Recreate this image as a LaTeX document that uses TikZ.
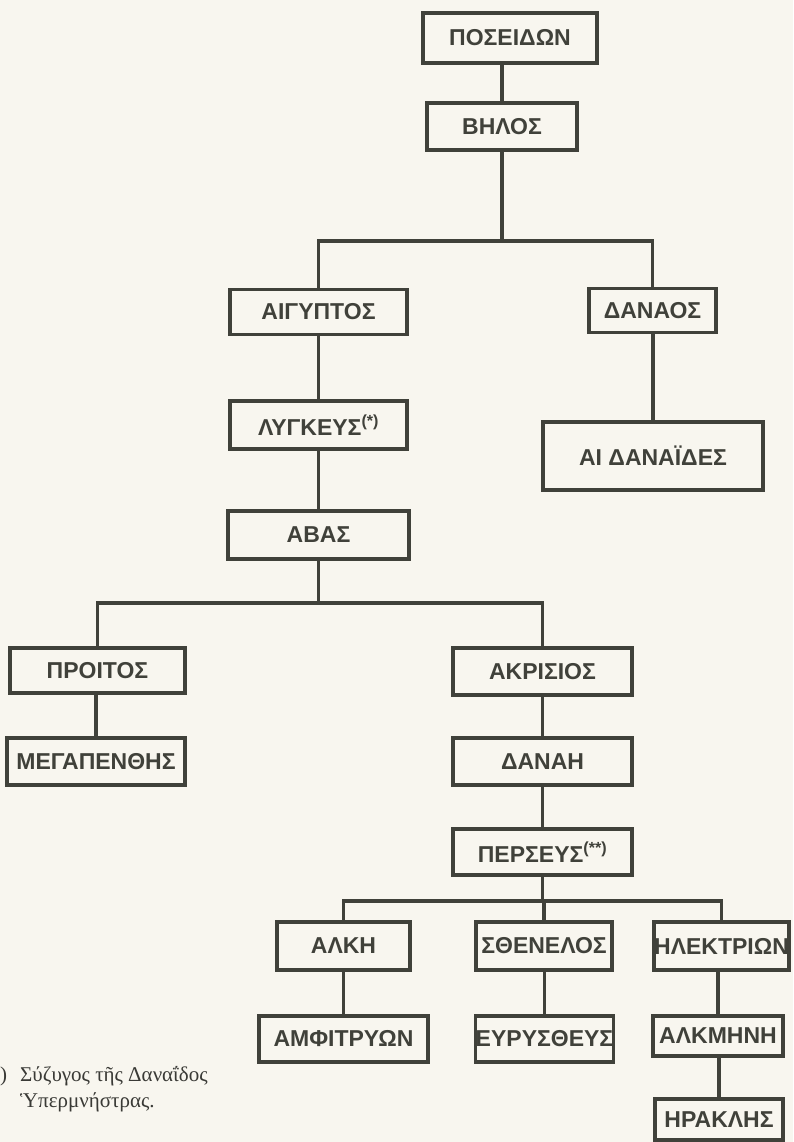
\documentclass[tikz,border=0pt]{standalone}
\usepackage{fontspec}
\setmainfont{Liberation Sans}
\newfontfamily\notefont{Liberation Serif}
\definecolor{paper}{RGB}{248,246,239}
\definecolor{ink}{RGB}{64,65,58}
\definecolor{noteink}{RGB}{58,58,54}
\begin{document}
\begin{tikzpicture}[x=1pt,y=-1pt,
  box/.style={draw=ink, line width=3.3pt, inner sep=0pt, text=ink,
    font=\fontsize{23}{26}\selectfont\bfseries, align=center},
  link/.style={draw=ink, line width=3.3pt},
  note/.style={anchor=west, inner sep=0pt, text=noteink,
    font=\notefont\fontsize{21}{24}\selectfont}]
\fill[paper] (0,0) rectangle (793,1142);
\useasboundingbox (0,0) rectangle (793,1142);

% nodes
\node[box, minimum width=174pt, minimum height=50pt] (posei) at (510,38) {ΠΟΣΕΙΔΩΝ};
\node[box, minimum width=150pt, minimum height=47pt] (belos) at (502,126.5) {ΒΗΛΟΣ};
\node[box, minimum width=177pt, minimum height=45pt] (aig) at (318.5,312) {ΑΙΓΥΠΤΟΣ};
\node[box, minimum width=127pt, minimum height=44pt] (danaos) at (652.5,310.5) {ΔΑΝΑΟΣ};
\node[box, minimum width=177pt, minimum height=48pt] (lyg) at (318.5,425) {ΛΥΓΚΕΥΣ\textsuperscript{(*)}};
\node[box, minimum width=220pt, minimum height=68pt] (danaides) at (653,456) {ΑΙ ΔΑΝΑΪΔΕΣ};
\node[box, minimum width=181pt, minimum height=48pt] (abas) at (318.5,535) {ΑΒΑΣ};
\node[box, minimum width=175pt, minimum height=45pt] (proitos) at (97.5,670.5) {ΠΡΟΙΤΟΣ};
\node[box, minimum width=179pt, minimum height=47pt] (akris) at (542.5,671.5) {ΑΚΡΙΣΙΟΣ};
\node[box, minimum width=178pt, minimum height=47pt] (megap) at (96,761.5) {ΜΕΓΑΠΕΝΘΗΣ};
\node[box, minimum width=179pt, minimum height=47pt] (danae) at (542.5,761.5) {ΔΑΝΑΗ};
\node[box, minimum width=179pt, minimum height=46pt] (perseus) at (542.5,852) {ΠΕΡΣΕΥΣ\textsuperscript{(**)}};
\node[box, minimum width=133pt, minimum height=48pt] (alki) at (343.5,946) {ΑΛΚΗ};
\node[box, minimum width=136pt, minimum height=48pt] (sthen) at (544,946) {ΣΘΕΝΕΛΟΣ};
\node[box, minimum width=133pt, minimum height=48pt] (ilek) at (721.5,946) {ΗΛΕΚΤΡΙΩΝ};
\node[box, minimum width=169pt, minimum height=46pt] (amfi) at (343.5,1039) {ΑΜΦΙΤΡΥΩΝ};
\node[box, minimum width=135pt, minimum height=46pt] (eury) at (544.5,1039) {ΕΥΡΥΣΘΕΥΣ};
\node[box, minimum width=130pt, minimum height=40pt] (alkm) at (718,1036) {ΑΛΚΜΗΝΗ};
\node[box, minimum width=128pt, minimum height=41pt] (irakl) at (719,1119.5) {ΗΡΑΚΛΗΣ};

% bar levels
\coordinate (bar1) at (0,241);
\coordinate (bar2) at (0,603);
\coordinate (bar3) at (0,901);

% connectors
\draw[link] (belos.north) -- (belos.north |- posei.south);
\draw[link] (belos.south) -- (belos.south |- bar1);
\draw[link] (aig.north) |- (belos.south |- bar1) -| (danaos.north);
\draw[link] (lyg.north) -- (lyg.north |- aig.south);
\draw[link] (danaides.north) -- (danaides.north |- danaos.south);
\draw[link] (abas.north) -- (abas.north |- lyg.south);
\draw[link] (abas.south) -- (abas.south |- bar2);
\draw[link] (proitos.north) |- (abas.south |- bar2) -| (akris.north);
\draw[link] (megap.north) -- (megap.north |- proitos.south);
\draw[link] (danae.north) -- (danae.north |- akris.south);
\draw[link] (perseus.north) -- (perseus.north |- danae.south);
\draw[link] (perseus.south) -- (perseus.south |- bar3);
\draw[link] (alki.north) |- (perseus.south |- bar3) -| (ilek.north);
\draw[link] (sthen.north) -- (sthen.north |- bar3);
\draw[link] (amfi.north) -- (amfi.north |- alki.south);
\draw[link] (eury.north) -- (eury.north |- sthen.south);
\draw[link] (alkm.north) -- (alkm.north |- ilek.south);
\draw[link] (irakl.north) -- (irakl.north |- alkm.south);

% footnote
\node[note] (fnmark) at (0,1076) {)};
\node[note] (fn1) at (20,1076) {Σύζυγος τῆς Δαναΐδος};
\node[note] (fn2) at (20,1102) {Ὑπερμνήστρας.};
\end{tikzpicture}
\end{document}
